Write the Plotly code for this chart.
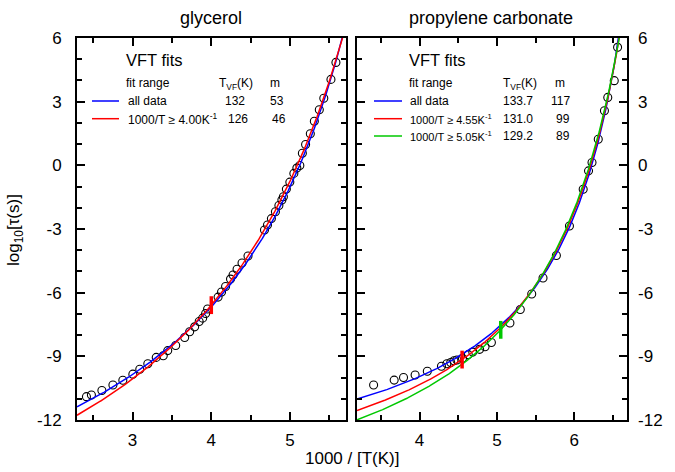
import numpy as np
import plotly.graph_objects as go

W, H = 675, 472

# ---------------- data ----------------
gly_x = [2.415, 2.478, 2.611, 2.751, 2.877, 3.004, 3.092, 3.194, 3.301, 3.390,
         3.447, 3.548, 3.662, 3.725, 3.789, 3.846, 3.890, 3.928, 3.953, 4.086,
         4.130, 4.181, 4.244, 4.276, 4.327, 4.390, 4.466, 4.675, 4.713, 4.763,
         4.814, 4.858, 4.896, 4.915, 4.953, 4.997, 5.048, 5.086, 5.124, 5.156,
         5.197, 5.257, 5.308, 5.371, 5.428, 5.519, 5.582]
gly_y = [-10.90, -10.82, -10.61, -10.35, -10.13, -9.84, -9.61, -9.35, -9.05, -8.97,
         -8.73, -8.49, -8.11, -7.84, -7.61, -7.36, -7.20, -6.98, -6.77, -6.21,
         -5.97, -5.71, -5.36, -5.17, -4.90, -4.60, -4.27, -3.05, -2.81, -2.51,
         -2.19, -1.89, -1.63, -1.48, -1.12, -0.79, -0.38, -0.13, -0.01, 0.57,
         0.98, 1.49, 2.08, 2.62, 3.16, 4.05, 4.85]

pc_x = [3.405, 3.671, 3.792, 3.942, 4.100, 4.283, 4.353, 4.403, 4.444, 4.483,
        4.555, 4.630, 4.688, 4.777, 4.847, 4.929, 5.169, 5.303, 5.451, 5.597,
        5.770, 5.939, 6.117, 6.186, 6.231, 6.312, 6.392, 6.435, 6.519, 6.562]
pc_y = [-10.35, -10.12, -10.00, -9.88, -9.70, -9.47, -9.35, -9.29, -9.21, -9.17,
        -9.09, -8.92, -8.80, -8.67, -8.55, -8.35, -7.43, -6.79, -6.06, -5.31,
        -4.25, -2.86, -1.13, -0.26, 0.13, 1.23, 2.57, 3.20, 3.99, 5.56]

# VFT fits: log10(tau) = A + B / (1000/x - T0)
gly_labels = ["all data", "1000/T \u2265 4.00K<sup>-1</sup>"]
gly_T0 = [132, 126]
gly_A = [-14.37, -15.24]
gly_B = [908.5, 1072.8]
gly_m = [53, 46]
gly_Ttxt = ["132", "126"]
gly_start = [None, 4.00]
gly_colors = ["#0000ff", "#ff0000"]

pc_labels = ["all data", "1000/T \u2265 4.55K<sup>-1</sup>", "1000/T \u2265 5.05K<sup>-1</sup>"]
pc_T0 = [133.7, 131.0, 129.2]
pc_A = [-12.95, -13.82, -14.52]
pc_B = [348.0, 414.3, 465.8]
pc_m = [117, 99, 89]
pc_Ttxt = ["133.7", "131.0", "129.2"]
pc_start = [None, 4.55, 5.05]
pc_colors = ["#0000ff", "#ff0000", "#00c800"]

gly_xrange = [2.295, 5.71]
pc_xrange = [3.19, 6.68]
y_range = [-12, 6]
y_ticks = [-12, -9, -6, -3, 0, 3, 6]

FONT = "Liberation Sans, Arial, sans-serif"


def vft(x, A, B, T0):
    x = np.asarray(x, dtype=float)
    return A + B / (1000.0 / x - T0)


fig = go.Figure()

# data points
fig.add_trace(go.Scatter(x=gly_x, y=gly_y, mode="markers", xaxis="x", yaxis="y",
                         marker=dict(symbol="circle-open", size=8, color="black",
                                     line=dict(width=1.1, color="black")),
                         showlegend=False))
fig.add_trace(go.Scatter(x=pc_x, y=pc_y, mode="markers", xaxis="x2", yaxis="y2",
                         marker=dict(symbol="circle-open", size=8, color="black",
                                     line=dict(width=1.1, color="black")),
                         showlegend=False))

# fit curves
for (xr, ax, ay, A_, B_, T0_, cols) in [
        (gly_xrange, "x", "y", gly_A, gly_B, gly_T0, gly_colors),
        (pc_xrange, "x2", "y2", pc_A, pc_B, pc_T0, pc_colors)]:
    xs = np.linspace(xr[0], xr[1], 400)
    for A, B, T0, c in zip(A_, B_, T0_, cols):
        fig.add_trace(go.Scatter(x=xs, y=vft(xs, A, B, T0), mode="lines",
                                 xaxis=ax, yaxis=ay, line=dict(color=c, width=1.5),
                                 showlegend=False, hoverinfo="skip"))

# fit-range start markers
for (starts, ax, ay, A_, B_, T0_, cols) in [
        (gly_start, "x", "y", gly_A, gly_B, gly_T0, gly_colors),
        (pc_start, "x2", "y2", pc_A, pc_B, pc_T0, pc_colors)]:
    for s, A, B, T0, c in zip(starts, A_, B_, T0_, cols):
        if s is None:
            continue
        yc = float(vft(s, A, B, T0))
        fig.add_trace(go.Scatter(x=[s, s], y=[yc - 0.42, yc + 0.42], mode="lines",
                                 xaxis=ax, yaxis=ay, line=dict(color=c, width=3.5),
                                 showlegend=False, hoverinfo="skip"))

# axes
x_dom1 = [77 / W, 346 / W]
x_dom2 = [357 / W, 626.7 / W]
y_dom = [1 - 420 / H, 1 - 38 / H]

axis_common = dict(showline=True, linewidth=2, linecolor="black", mirror="ticks",
                   ticks="inside", ticklen=8, tickwidth=2, tickcolor="black",
                   showgrid=False, zeroline=False, automargin=False,
                   tickfont=dict(family=FONT, size=17, color="black"))

yaxis_common = dict(axis_common, range=y_range, tickmode="array", tickvals=y_ticks,
                    ticktext=[str(v) for v in y_ticks],
                    minor=dict(dtick=1, tick0=0, ticks="inside", ticklen=5,
                               tickwidth=2, tickcolor="black", showgrid=False))

fig.update_layout(
    template="none",
    width=W, height=H,
    margin=dict(l=0, r=0, t=0, b=0, pad=0),
    paper_bgcolor="white", plot_bgcolor="white",
    font=dict(family=FONT, color="black"),
    xaxis=dict(axis_common, domain=x_dom1, range=gly_xrange, anchor="y",
               tickmode="array", tickvals=[3, 4, 5], ticktext=["3", "4", "5"],
               ticklabelstandoff=4,
               minor=dict(tickvals=[2.5, 3.5, 4.5, 5.5], ticks="inside", ticklen=5,
                          tickwidth=2, tickcolor="black", showgrid=False)),
    yaxis=dict(yaxis_common, domain=y_dom, anchor="x", side="left",
               ticklabelstandoff=10),
    xaxis2=dict(axis_common, domain=x_dom2, range=pc_xrange, anchor="y2",
                tickmode="array", tickvals=[4, 5, 6], ticktext=["4", "5", "6"],
                ticklabelstandoff=4,
                minor=dict(tickvals=[3.5, 4.5, 5.5, 6.5], ticks="inside", ticklen=5,
                           tickwidth=2, tickcolor="black", showgrid=False)),
    yaxis2=dict(yaxis_common, domain=y_dom, anchor="x2", side="right",
                ticklabelstandoff=6),
)

ann = []
shapes = []


def px(xp, yp):
    return xp / W, 1 - yp / H


def add_text(text, xp, yp, size, xanchor="left", yanchor="middle", angle=0):
    x, y = px(xp, yp)
    ann.append(dict(text=text, x=x, y=y, xref="paper", yref="paper",
                    xanchor=xanchor, yanchor=yanchor, showarrow=False,
                    textangle=angle, font=dict(family=FONT, size=size, color="black")))


# titles
add_text("glycerol", 211, 18, 18, xanchor="center")
add_text("propylene carbonate", 491, 18, 18, xanchor="center")
add_text("1000 / [T(K)]", 352, 458, 17, xanchor="center")
add_text("log<sub>10</sub>[\u03c4(s)]", 15, 230, 17, xanchor="center", angle=-90)

# legend - glycerol
add_text("VFT fits", 124, 60, 16.5)
add_text("fit range", 124, 83, 12)
add_text("T<sub>VF</sub>(K)", 217, 84, 12)
add_text("m", 268, 83, 12)
gly_rows = [101, 118.7]
gly_Tpos = [[223, 268], [226, 270]]
for i, yr in enumerate(gly_rows):
    x0, y0 = px(92, yr)
    x1, _ = px(119, yr)
    shapes.append(dict(type="line", xref="paper", yref="paper", x0=x0, x1=x1,
                       y0=y0, y1=y0, line=dict(color=gly_colors[i], width=1.5)))
    add_text(gly_labels[i], 126, yr, 12)
    add_text(gly_Ttxt[i], gly_Tpos[i][0], yr, 12)
    add_text(str(gly_m[i]), gly_Tpos[i][1], yr, 12)

# legend - propylene carbonate
add_text("VFT fits", 407, 60, 16.5)
add_text("fit range", 407, 83, 12)
add_text("T<sub>VF</sub>(K)", 501, 84, 12)
add_text("m", 553, 83, 12)
pc_rows = [101, 118.7, 136]
for i, yr in enumerate(pc_rows):
    x0, y0 = px(374, yr)
    x1, _ = px(402, yr)
    shapes.append(dict(type="line", xref="paper", yref="paper", x0=x0, x1=x1,
                       y0=y0, y1=y0, line=dict(color=pc_colors[i], width=1.5)))
    add_text(pc_labels[i], 408, yr, 12 if i == 0 else 11)
    add_text(pc_Ttxt[i], 535, yr, 12, xanchor="right")
    add_text(str(pc_m[i]), 572, yr, 12, xanchor="right")

fig.update_layout(annotations=ann, shapes=shapes)

fig.write_html("out.html",
               config={"displayModeBar": False},
               post_script="document.body.style.margin='0';document.body.style.overflow='hidden';")
